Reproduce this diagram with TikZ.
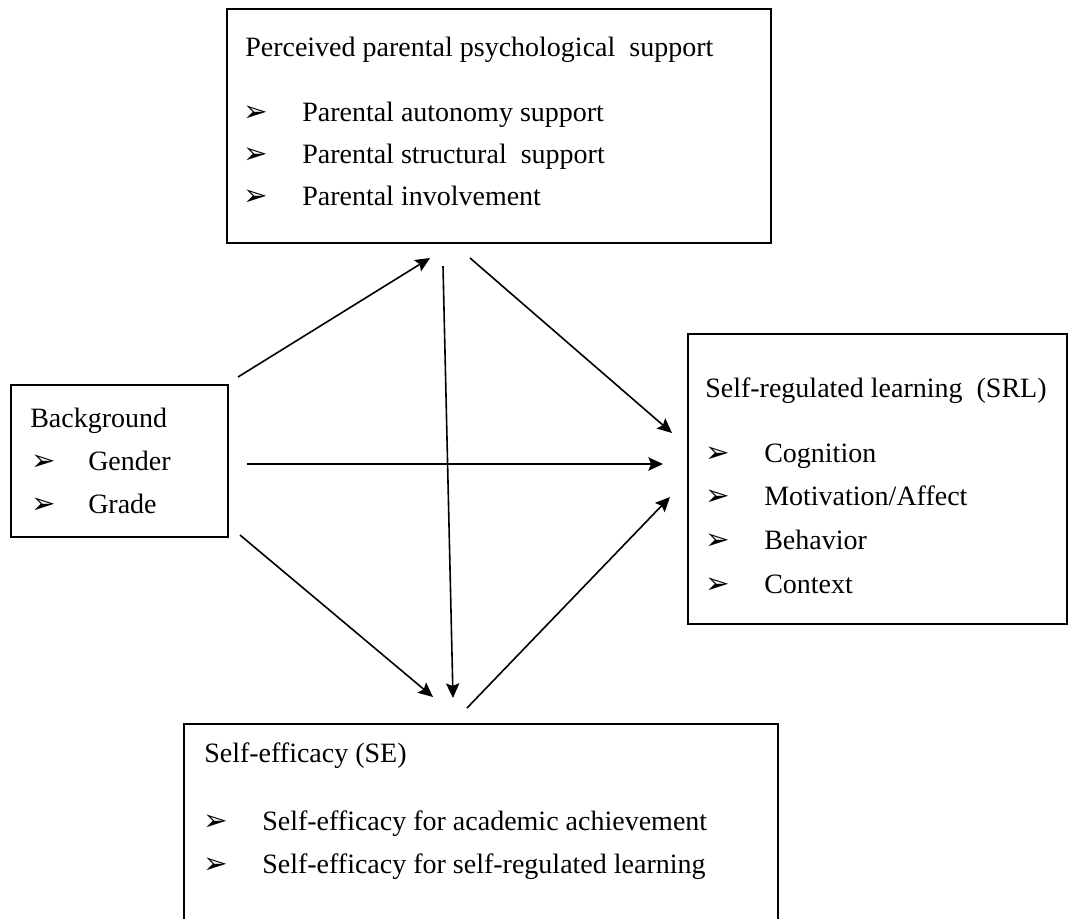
\documentclass[tikz,border=0pt]{standalone}
\usepackage{fontspec}
\setmainfont{Liberation Serif}
\newfontfamily\djfont{DejaVu Sans}
\usetikzlibrary{arrows.meta}
\newcommand{\bul}{{\djfont\fontsize{22pt}{22pt}\selectfont ➢}}
\begin{document}
\begin{tikzpicture}[x=0.75pt,y=-0.75pt,
  box/.style={draw, line width=1.2pt, anchor=north west, inner sep=0pt},
  txt/.style={anchor=base west, inner sep=0pt, font=\fontsize{21pt}{25pt}\selectfont},
  bl/.style={anchor=base west, inner sep=0pt},
  conn/.style={line width=1.2pt, -{Stealth[length=11pt,width=10pt,inset=2pt]}}]
\useasboundingbox (0,0) rectangle (1073,918);
\clip (0,0) rectangle (1073,918);
\fill[white] (0,0) rectangle (1073,918);
% boxes
\node[box, minimum width=408pt, minimum height=175.5pt] (pps) at (226,8) {};
\node[box, minimum width=162.75pt, minimum height=114pt] (bg) at (10,384) {};
\node[box, minimum width=284.25pt, minimum height=217.5pt] (srl) at (687,333) {};
\node[box, minimum width=445.5pt, minimum height=157.5pt] (se) at (183,723) {};
% PPS text
\node[txt] (ppst) at (245,56) {Perceived parental psychological\ \ support};
\node[bl] (ppsb1) at (243,121) {\bul};
\node[txt] (ppsi1) at (302,121) {Parental autonomy support};
\node[bl] (ppsb2) at (243,163) {\bul};
\node[txt] (ppsi2) at (302,163) {Parental structural\ \ support};
\node[bl] (ppsb3) at (243,205) {\bul};
\node[txt] (ppsi3) at (302,205) {Parental involvement};
% Background text
\node[txt] (bgt) at (30,427) {Background};
\node[bl] (bgb1) at (31,470) {\bul};
\node[txt] (bgi1) at (88,470) {Gender};
\node[bl] (bgb2) at (31,513) {\bul};
\node[txt] (bgi2) at (88,513) {Grade};
% SRL text
\node[txt] (srlt) at (705,397) {Self-regulated learning\ \ (SRL)};
\node[bl] (srlb1) at (705,462) {\bul};
\node[txt] (srli1) at (764,462) {Cognition};
\node[bl] (srlb2) at (705,505) {\bul};
\node[txt] (srli2) at (764,505) {Motivation/Affect};
\node[bl] (srlb3) at (705,549) {\bul};
\node[txt] (srli3) at (764,549) {Behavior};
\node[bl] (srlb4) at (705,593) {\bul};
\node[txt] (srli4) at (764,593) {Context};
% SE text
\node[txt] (set) at (204,762) {Self-efficacy (SE)};
\node[bl] (seb1) at (203,830) {\bul};
\node[txt] (sei1) at (262,830) {Self-efficacy for academic achievement};
\node[bl] (seb2) at (203,873) {\bul};
\node[txt] (sei2) at (262,873) {Self-efficacy for self-regulated learning};
% connector ends
\coordinate (a1s) at (238,377); \coordinate (a1e) at (430,258);
\coordinate (a2s) at (470,258); \coordinate (a2e) at (672,433);
\coordinate (a3s) at (247,464); \coordinate (a3e) at (663,464);
\coordinate (a4s) at (443,266); \coordinate (a4e) at (453,698);
\coordinate (a5s) at (240,535); \coordinate (a5e) at (433,697);
\coordinate (a6s) at (467,708); \coordinate (a6e) at (670,497);
\draw[conn] (a1s) -- (a1e);
\draw[conn] (a2s) -- (a2e);
\draw[conn] (a3s) -- (a3e);
\draw[conn] (a4s) -- (a4e);
\draw[conn] (a5s) -- (a5e);
\draw[conn] (a6s) -- (a6e);
\end{tikzpicture}
\end{document}
